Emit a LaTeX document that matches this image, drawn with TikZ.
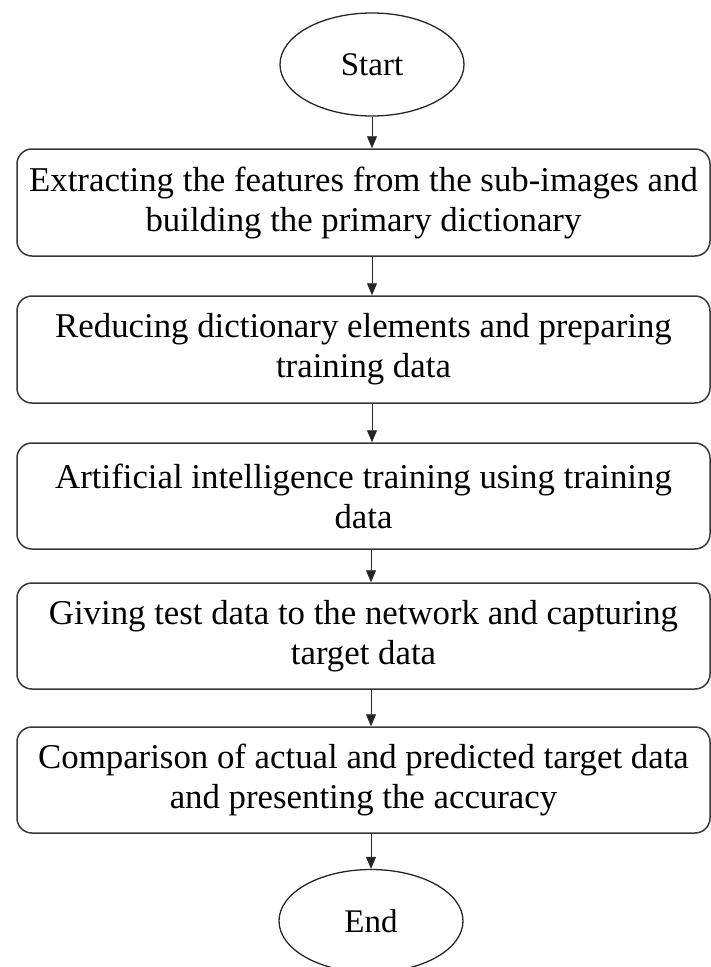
\documentclass[tikz,border=0pt]{standalone}
\usepackage{fontspec}
\setmainfont{Liberation Serif}
\usetikzlibrary{arrows.meta,shapes.geometric}

\tikzset{
  stepbox/.style={draw=black!78, line width=1.5pt, rounded corners=15pt,
    minimum width=693pt, minimum height=107pt, inner sep=0pt,
    align=center, font=\fontsize{34.8}{40}\selectfont},
  terminal/.style={ellipse, draw=black!85, line width=1.3pt,
    minimum width=184pt, minimum height=103pt, inner sep=0pt,
    font=\fontsize{33}{40}\selectfont},
  flow/.style={draw=black!85, line width=0.9pt,
    -{Triangle[length=12pt,width=10pt]}}
}

\begin{document}
\begin{tikzpicture}[x=1pt,y=-1pt]
  \useasboundingbox (0,0) rectangle (711,967);

  % terminals
  \node[terminal] (start) at (372,64.5) {Start};
  \node[terminal] (end)   at (371,921)  {End};

  % process steps
  \node[stepbox] (s1) at (363.5,202.5) {Extracting the features from the sub-images and\\building the primary dictionary};
  \node[stepbox] (s2) at (363.5,349.5) {Reducing dictionary elements and preparing\\training data};
  \node[stepbox, minimum height=106pt] (s3) at (363.5,496) {Artificial intelligence training using training\\data};
  \node[stepbox, minimum height=106pt] (s4) at (363.5,636) {Giving test data to the network and capturing\\target data};
  \node[stepbox, minimum height=106pt] (s5) at (363.5,780) {Comparison of actual and predicted target data\\and presenting the accuracy};

  % connectors
  \draw[flow] (start.south) -- (start.south |- s1.north);
  \draw[flow] (s1.south -| start.south) -- (start.south |- s2.north);
  \draw[flow] (s2.south -| start.south) -- (start.south |- s3.north);
  \draw[flow] (s3.south -| end.north) -- (end.north |- s4.north);
  \draw[flow] (s4.south -| end.north) -- (end.north |- s5.north);
  \draw[flow] (s5.south -| end.north) -- (end.north);
\end{tikzpicture}
\end{document}
